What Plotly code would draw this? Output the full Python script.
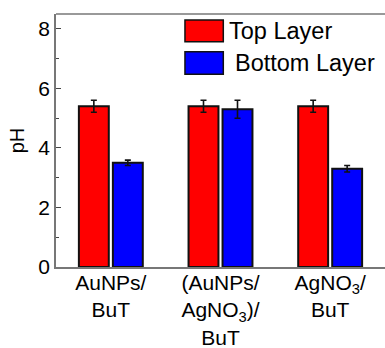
import plotly.graph_objects as go

# Sample categories (HTML markup for line breaks and subscripts)
categories = ["AuNPs/<br>BuT", "(AuNPs/<br>AgNO<sub>3</sub>)/<br>BuT", "AgNO<sub>3</sub>/<br>BuT"]
top_ph = [5.4, 5.4, 5.4]
top_err = [0.2, 0.2, 0.2]
bottom_ph = [3.5, 5.3, 3.3]
bottom_err = [0.09, 0.3, 0.11]
series_names = ["Top Layer", "Bottom Layer"]
series_colors = ["#ff0000", "#0000ff"]
ytick_vals = [0, 2, 4, 6, 8]

FONT = "Liberation Sans, Arial, sans-serif"
x_idx = list(range(len(categories)))

fig = go.Figure()
for name, vals, errs, color in zip(series_names, [top_ph, bottom_ph], [top_err, bottom_err], series_colors):
    fig.add_trace(go.Bar(
        x=x_idx, y=vals, name=name,
        marker=dict(color=color, line=dict(color="#111111", width=2)),
        error_y=dict(type="data", array=errs, color="#111111", thickness=1.6, width=3),
        showlegend=False,
    ))

# Hand-drawn legend with wide swatches: (swatch bottom, swatch top, text x, text y)
legend_rows = [(0.8905, 0.976, 0.527, 0.933), (0.7617, 0.851, 0.544, 0.806)]
for (y0, y1, tx, ty), name, color in zip(legend_rows, series_names, series_colors):
    fig.add_shape(type="rect", xref="paper", yref="paper",
                  x0=0.392, x1=0.5085, y0=y0, y1=y1,
                  fillcolor=color, line=dict(color="#111111", width=1.5))
    fig.add_annotation(xref="paper", yref="paper", x=tx, y=ty,
                       text=name, showarrow=False, xanchor="left", yanchor="middle",
                       xshift=-2, font=dict(family=FONT, size=23.5, color="black"))

# Top frame line running past the right edge
fig.add_shape(type="line", xref="paper", yref="paper", x0=0, x1=1.02, y0=1, y1=1,
              line=dict(color="#777777", width=1.5))

fig.update_layout(
    width=385, height=348,
    margin=dict(l=56, r=0, t=14, b=81),
    paper_bgcolor="white", plot_bgcolor="white",
    barmode="group", bargap=0.38, bargroupgap=0.12,
    font=dict(family=FONT, size=18, color="black"),
    xaxis=dict(
        range=[-0.5, 2.5], tickmode="array", tickvals=x_idx, ticktext=categories,
        showline=True, linecolor="#777777", linewidth=1.5, ticks="",
        showgrid=False, zeroline=False, automargin=False,
        ticklabelstandoff=-4,
        tickfont=dict(family=FONT, size=21, color="black"),
    ),
    yaxis=dict(
        range=[0, 8.5], tickmode="array", tickvals=ytick_vals,
        showline=True, linecolor="#777777", linewidth=1.5,
        ticks="inside", ticklen=5, tickwidth=1.2, tickcolor="#444444",
        minor=dict(tickvals=[1, 3, 5, 7], ticks="inside", ticklen=3, tickwidth=1.2, tickcolor="#444444"),
        showgrid=False, zeroline=False, automargin=False,
        tickfont=dict(family=FONT, size=21, color="black"),
        title=dict(text="pH", font=dict(family=FONT, size=20, color="black"), standoff=8),
    ),
)

fig.write_html("out.html")
